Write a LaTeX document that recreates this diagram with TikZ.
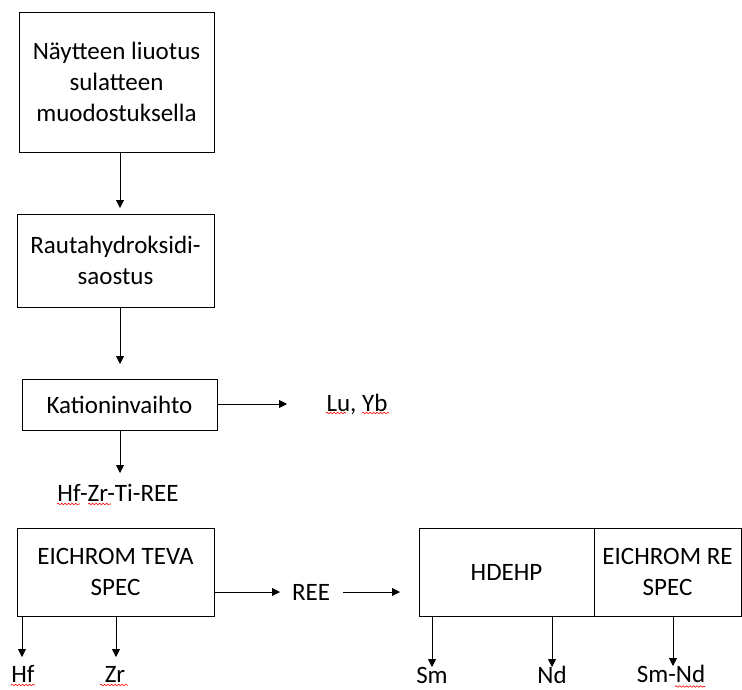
\documentclass[tikz,border=0pt]{standalone}
\usepackage{fontspec}
\setmainfont{Carlito}
\usetikzlibrary{arrows.meta,decorations.pathmorphing}
\tikzset{
  box/.style={draw, line width=0.9pt, align=center, inner sep=0pt,
    font=\fontsize{25}{31}\selectfont},
  lbl/.style={inner sep=0pt, font=\fontsize{25}{31}\selectfont},
  arr/.style={line width=0.9pt, -{Triangle[length=8pt,width=8pt]}},
  spell/.style={red, line width=0.6pt, decorate,
    decoration={snake, segment length=3.5pt, amplitude=0.8pt}}
}
\begin{document}
\begin{tikzpicture}[x=1pt,y=-1pt]
\useasboundingbox (0,0) rectangle (742,689);
% boxes
\node[box, minimum width=195pt, minimum height=140pt] (b1) at (116.5,82)
  {Näytteen liuotus\\sulatteen\\muodostuksella};
\node[box, minimum width=197pt, minimum height=93pt] (b2) at (115.5,260.5)
  {Rautahydroksidi-\\saostus};
\node[box, minimum width=195pt, minimum height=51pt] (b3) at (119.5,404.5)
  {Kationinvaihto};
\node[box, minimum width=197pt, minimum height=88pt] (b4) at (115.5,572)
  {EICHROM TEVA\\SPEC};
\node[box, minimum width=175pt, minimum height=88pt] (b5) at (506.5,572)
  {HDEHP};
\node[box, minimum width=147pt, minimum height=88pt] (b6) at (667.5,572)
  {EICHROM RE\\SPEC};
% labels
\node[lbl] (luyb) at (357,404) {Lu, Yb};
\node[lbl] (hfzr) at (118,493) {Hf-Zr-Ti-REE};
\node[lbl] (ree) at (311,592) {REE};
\node[lbl, anchor=base] (hf) at (23,682) {Hf};
\node[lbl, anchor=base] (zr) at (115,682) {Zr};
\node[lbl, anchor=base] (sm) at (432,683.5) {Sm};
\node[lbl, anchor=base] (nd) at (552,683.5) {Nd};
\node[lbl, anchor=base] (smnd) at (671,682.5) {Sm-Nd};
% arrow end points
\coordinate (t1) at (120,208);
\coordinate (t2) at (120,364);
\coordinate (t3) at (287,404);
\coordinate (t4) at (120,473);
\coordinate (t5) at (280,592);
\coordinate (s6) at (343,592);
\coordinate (t6) at (400,592);
\coordinate (thf) at (22,657);
\coordinate (tzr) at (116,657);
\coordinate (tsm) at (432,667);
\coordinate (tnd) at (552,667);
\coordinate (tsmnd) at (673,666);
% connectors
\draw[arr] (b1.south -| t1) -- (t1);
\draw[arr] (b2.south -| t2) -- (t2);
\draw[arr] (b3.east |- t3) -- (t3);
\draw[arr] (b3.south -| t4) -- (t4);
\draw[arr] (b4.east |- t5) -- (t5);
\draw[arr] (s6) -- (t6);
\draw[arr] (b4.south -| thf) -- (thf);
\draw[arr] (b4.south -| tzr) -- (tzr);
\draw[arr] (b5.south -| tsm) -- (tsm);
\draw[arr] (b5.south -| tnd) -- (tnd);
\draw[arr] (b6.south -| tsmnd) -- (tsmnd);
% spell-check underlines
\draw[spell] (326,413) -- (346,413);
\draw[spell] (362,413) -- (389,413);
\draw[spell] (57,504) -- (80,504);
\draw[spell] (88,504) -- (111,504);
\draw[spell] (11,685) -- (35,685);
\draw[spell] (100,685) -- (128,685);
\draw[spell] (675,686.5) -- (705,686.5);
\end{tikzpicture}
\end{document}
